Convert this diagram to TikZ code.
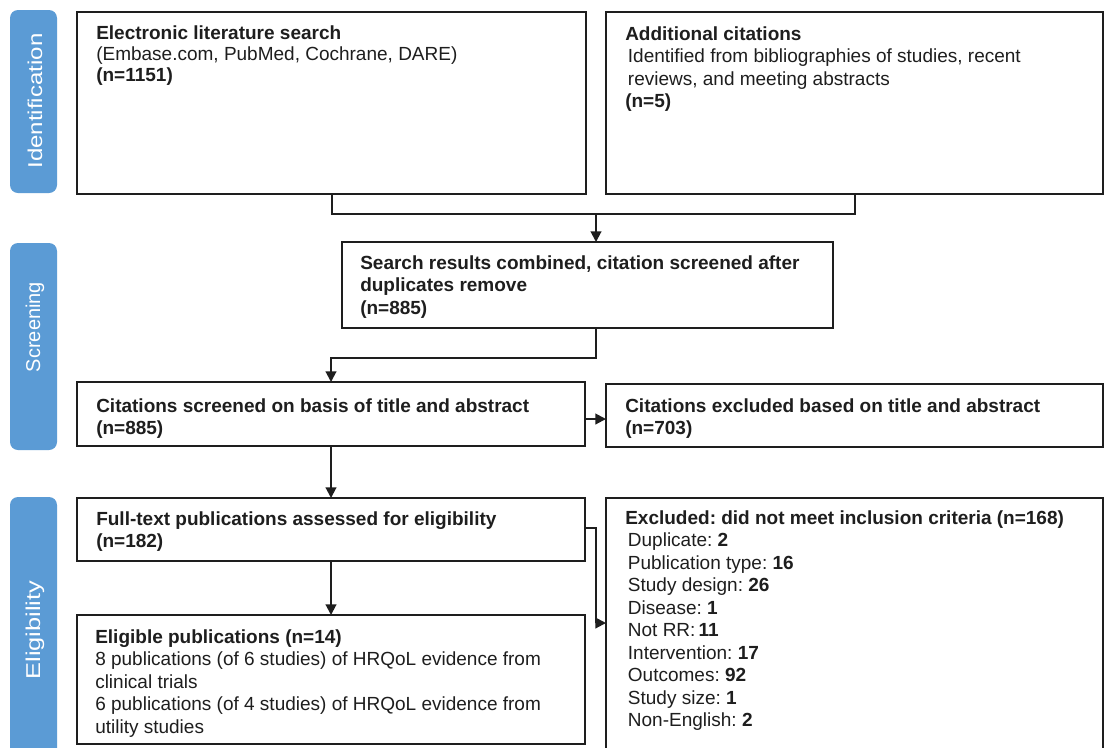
\documentclass[tikz,border=0pt]{standalone}
\usepackage{fontspec}
\setmainfont{Liberation Sans}
\frenchspacing
\usetikzlibrary{arrows.meta}
\definecolor{tabblue}{RGB}{91,155,213}
\definecolor{ink}{RGB}{30,30,30}
\tikzset{
  box/.style={draw=ink, line width=1.5pt, fill=white, inner sep=0pt, outer sep=0pt, anchor=north west},
  txt/.style={inner sep=0pt, anchor=north west, align=left, text=ink,
    font=\fontsize{14.25}{16.9}\selectfont},
  tab/.style={fill=tabblue, rounded corners=6pt, draw=none},
  tablabel/.style={rotate=90, text=white, inner sep=0pt,
    font=\fontsize{15}{18}\selectfont},
  link/.style={draw=ink, line width=1.5pt},
  arr/.style={link, -{Triangle[length=8pt,width=8pt]}}
}
\begin{document}
\begin{tikzpicture}[x=0.75pt,y=-0.75pt]
\useasboundingbox (0,0) rectangle (1105,747);
\clip (0,0) rectangle (1105,747);
\fill[white] (0,0) rectangle (1105,747);

% phase tabs
\path[tab] (10,10) rectangle (57,193);
\path[tab] (10,243) rectangle (57,450);
\path[tab] (10,497) rectangle (57,790);
\node[tablabel] (lid) at (35,101) {\scalebox{1.2}[1]{Identification}};
\node[tablabel] (lsc) at (35,327) {Screening};
\node[tablabel] (lel) at (35,630) {\scalebox{1.27}[1]{Eligibility}};

% boxes
\node[box, minimum width=509*0.75pt, minimum height=182*0.75pt] (e1) at (77,12) {};
\node[box, minimum width=497*0.75pt, minimum height=182*0.75pt] (add) at (606,12) {};
\node[box, minimum width=491*0.75pt, minimum height=86*0.75pt] (srch) at (342,242) {};
\node[box, minimum width=508*0.75pt, minimum height=64*0.75pt] (cit) at (77,382) {};
\node[box, minimum width=497*0.75pt, minimum height=63*0.75pt] (ex1) at (606,384) {};
\node[box, minimum width=508*0.75pt, minimum height=63*0.75pt] (ft) at (77,498) {};
\node[box, minimum width=508*0.75pt, minimum height=129*0.75pt] (elig) at (77,615) {};
\node[box, minimum width=497*0.75pt, minimum height=300*0.75pt] (ex2) at (606,498) {};

% box texts
\node[txt, font=\fontsize{14.25}{15.8}\selectfont] (e1t) at (96,25) {\textbf{Electronic literature search}\\
(Embase.com, PubMed, Cochrane, DARE)\\
\textbf{(n=1151)}};
\node[txt] (addt) at (625,26) {\textbf{Additional citations}\\
\hspace{2pt}Identified from bibliographies of studies, recent\\
\hspace{2pt}reviews, and meeting abstracts\\
\textbf{(n=5)}};
\node[txt] (srcht) at (360,255) {\textbf{Search results combined, citation screened after}\\
\textbf{duplicates remove}\\
\textbf{(n=885)}};
\node[txt] (citt) at (96,398) {\textbf{Citations screened on basis of title and abstract}\\
\textbf{(n=885)}};
\node[txt] (ex1t) at (625,398) {\textbf{Citations excluded based on title and abstract}\\
\textbf{(n=703)}};
\node[txt] (ftt) at (96,511) {\textbf{Full-text publications assessed for eligibility}\\
\textbf{(n=182)}};
\node[txt] (eligt) at (95,629) {\textbf{Eligible publications (n=14)}\\
8 publications (of 6 studies) of HRQoL evidence from\\
clinical trials\\
6 publications (of 4 studies) of HRQoL evidence from\\
utility studies};
\node[txt] (ex2t) at (625,510) {\textbf{Excluded: did not meet inclusion criteria (n=168)}\\
\hspace{2pt}Duplicate: \textbf{2}\\
\hspace{2pt}Publication type: \textbf{16}\\
\hspace{2pt}Study design: \textbf{26}\\
\hspace{2pt}Disease: \textbf{1}\\
\hspace{2pt}Not RR:\,\textbf{11}\\
\hspace{2pt}Intervention: \textbf{17}\\
\hspace{2pt}Outcomes: \textbf{92}\\
\hspace{2pt}Study size: \textbf{1}\\
\hspace{2pt}Non-English: \textbf{2}};

% junction points of the elbow connectors
\coordinate (j1) at (596,214);
\coordinate (j2) at (596,358);
\coordinate (j3) at (596,528);
\coordinate (j4) at (596,623);
\coordinate (a1) at (585,419);

% connectors
\draw[link] (e1.south) |- (j1) -| (add.south);
\draw[arr] (j1) -- (j1 |- srch.north);
\draw[arr] (srch.south -| j2) -- (j2) -| (cit.north);
\draw[arr] (a1) -- (a1 -| ex1.west);
\draw[arr] (cit.south) -- (ft.north);
\draw[arr] (ft.east |- j3) -- (j3) -- (j4) -- (j4 -| ex2.west);
\draw[arr] (ft.south) -- (elig.north);
\end{tikzpicture}
\end{document}
